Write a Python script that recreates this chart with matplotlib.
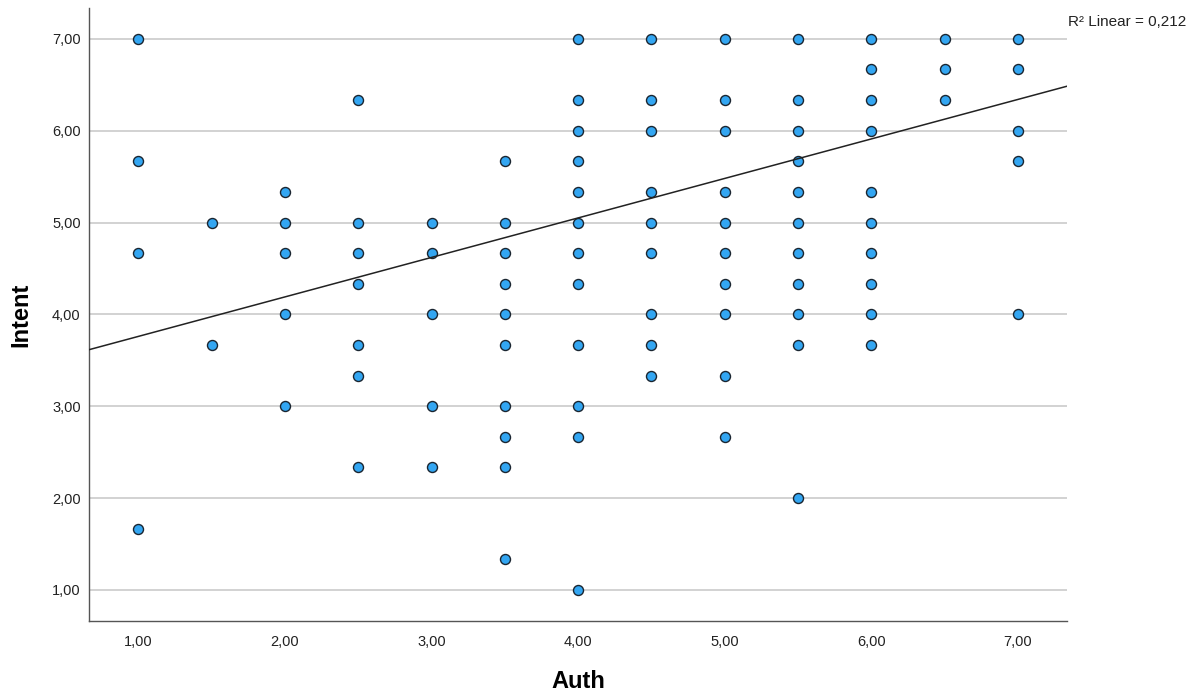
import matplotlib
matplotlib.use("Agg")
from matplotlib import pyplot as plt
import numpy as np

plt.rcParams['font.family'] = ['Liberation Sans', 'DejaVu Sans']

# Intent values observed at each Auth level (SPSS scatter, points overlap)
auth_levels = [1.0, 1.5, 2.0, 2.5, 3.0, 3.5, 4.0, 4.5, 5.0, 5.5, 6.0, 6.5, 7.0]
intent_by_auth = [
    [7, 17/3, 14/3, 5/3],
    [5, 11/3],
    [16/3, 5, 14/3, 4, 3],
    [19/3, 5, 14/3, 13/3, 11/3, 10/3, 7/3],
    [5, 14/3, 4, 3, 7/3],
    [17/3, 5, 14/3, 13/3, 4, 11/3, 3, 8/3, 7/3, 4/3],
    [7, 19/3, 6, 17/3, 16/3, 5, 14/3, 13/3, 11/3, 3, 8/3, 1],
    [7, 19/3, 6, 16/3, 5, 14/3, 4, 11/3, 10/3],
    [7, 19/3, 6, 16/3, 5, 14/3, 13/3, 4, 10/3, 8/3],
    [7, 19/3, 6, 17/3, 16/3, 5, 14/3, 13/3, 4, 11/3, 2],
    [7, 20/3, 19/3, 6, 16/3, 5, 14/3, 13/3, 4, 11/3],
    [7, 20/3, 19/3],
    [7, 20/3, 6, 17/3, 4],
]

# fit line
fit_intercept = 3.33
fit_slope = 0.43
r2_text = "R² Linear = 0,212"

ticks = [1, 2, 3, 4, 5, 6, 7]
tick_labels = ["1,00", "2,00", "3,00", "4,00", "5,00", "6,00", "7,00"]

auth = []
intent = []
for a, ys in zip(auth_levels, intent_by_auth):
    for y in ys:
        auth.append(a)
        intent.append(y)

fig = plt.figure(figsize=(12.01, 6.97), dpi=100)
ax = fig.add_axes([0.0741, 0.109, 0.8143, 0.8795])

xlim = (0.664, 7.334)
ylim = (0.662, 7.335)
ax.set_xlim(xlim)
ax.set_ylim(ylim)

ax.set_yticks(ticks)
ax.set_yticklabels(tick_labels)
ax.set_xticks(ticks)
ax.set_xticklabels(tick_labels)
ax.tick_params(length=0, labelsize=10.5, colors='#222222')
ax.tick_params(axis='y', pad=6)
ax.tick_params(axis='x', pad=10)

ax.yaxis.grid(True, color='#cfcfcf', linewidth=1.3)
ax.set_axisbelow(True)

for side in ['top', 'right']:
    ax.spines[side].set_visible(False)
for side in ['left', 'bottom']:
    ax.spines[side].set_color('#555555')
    ax.spines[side].set_linewidth(1.0)

ax.scatter(auth, intent, s=52, facecolor='#33a6f2', edgecolor='#1a2530',
           linewidth=1.0, zorder=3)

xs = np.array(xlim)
ax.plot(xs, fit_intercept + fit_slope * xs, color='#222222', linewidth=1.1, zorder=4)

ax.set_xlabel("Auth", fontsize=17, fontweight='bold')
ax.set_ylabel("Intent", fontsize=17, fontweight='bold')
ax.xaxis.set_label_coords(0.5, -0.099)
ax.yaxis.set_label_coords(-0.070, 0.5)
ax.xaxis.label.set_va('center')
ax.yaxis.label.set_va('center')

fig.text(1068 / 1201, 1 - 22 / 697, r2_text, fontsize=11, color='#222222',
         va='center', ha='left')

fig.savefig("out.png", dpi=100)
